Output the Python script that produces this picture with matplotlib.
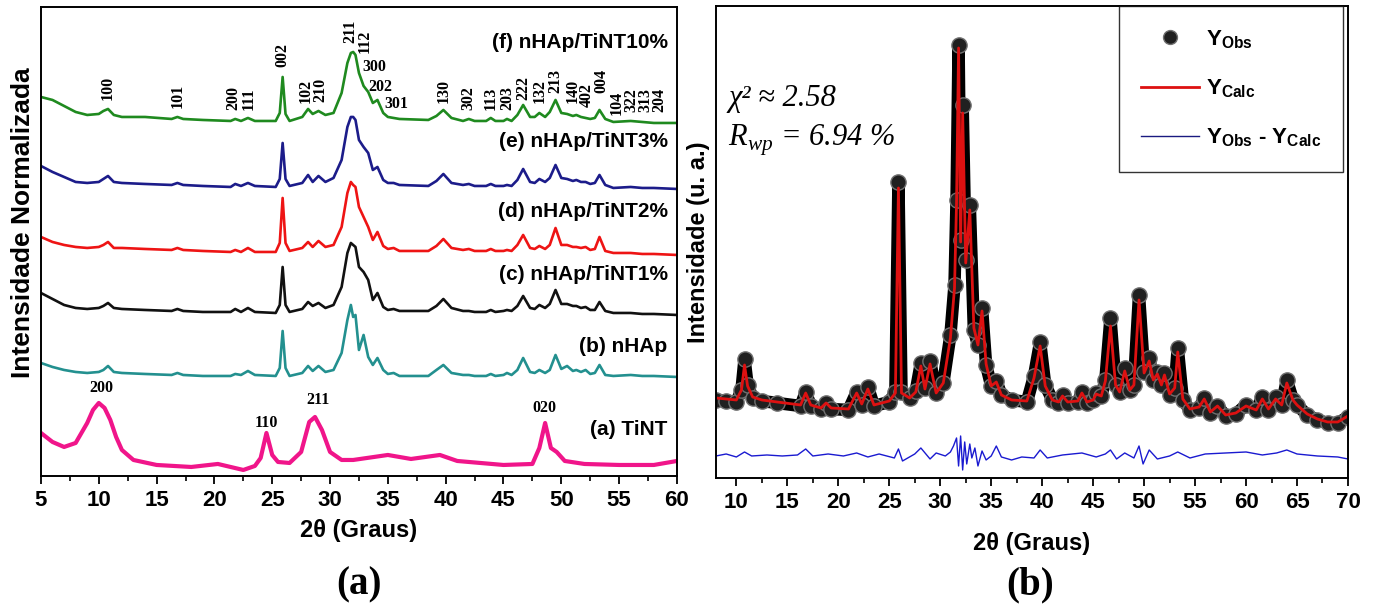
import matplotlib
matplotlib.use("Agg")
import matplotlib.pyplot as plt
from matplotlib.lines import Line2D
from matplotlib.ticker import MultipleLocator

plt.rcParams['font.family'] = ['Liberation Sans', 'DejaVu Sans']
plt.rcParams['font.weight'] = 'bold'
plt.rcParams['axes.labelweight'] = 'bold'

# ---------------- (a) stacked XRD patterns ----------------
theta_h = [5, 6, 7, 8, 9, 10, 10.4, 10.8, 11.3, 12, 14, 16.3, 16.8, 17.3, 19,
           21.4, 21.8, 22.3, 22.9, 23.5, 25.3, 25.65, 25.9, 26.15, 26.5, 27.6,
           28.1, 28.5, 29.0, 29.6, 30.3, 31.0, 31.5, 31.8, 32.0, 32.2, 32.5,
           32.9, 33.3, 33.7, 34.1, 34.6, 35.0, 35.5, 36, 38.5, 39.2, 39.8, 40.5,
           41.5, 42.0, 42.5, 43.5, 43.9, 44.3, 45.0, 45.3, 45.7, 46.2, 46.7,
           47.3, 47.7, 48.1, 48.6, 49.0, 49.5, 50.0, 50.5, 51.0, 51.3, 51.7,
           52.1, 52.5, 52.9, 53.3, 53.8, 54.5, 56, 57, 58, 60]

i_f = [26, 23, 17, 11, 8, 9, 12, 14, 8, 6, 6, 4, 6, 4, 3,
       2, 4, 2, 5, 2, 2, 10, 46, 9, 2, 6,
       14, 9, 12, 8, 10, 30, 60, 70, 71, 68, 50,
       37, 31, 20, 23, 10, 6, 5, 4, 3, 7, 13, 5,
       2, 4, 2, 2, 5, 2, 2, 4, 2, 8, 18,
       6, 6, 10, 6, 11, 23, 10, 9, 7, 8, 6,
       5, 4, 5, 13, 4, 1, 2, 1, 0, 0]
i_e = [23, 17, 12, 7, 6, 7, 10, 13, 7, 6, 5, 4, 6, 4, 3,
       2, 5, 3, 6, 3, 2, 10, 46, 10, 3, 6,
       14, 7, 13, 7, 11, 29, 62, 72, 72, 69, 49,
       42, 36, 19, 22, 9, 6, 6, 4, 3, 8, 15, 6,
       4, 5, 3, 3, 5, 3, 3, 4, 3, 9, 20,
       7, 6, 10, 7, 11, 24, 11, 10, 8, 9, 7,
       7, 5, 6, 14, 4, 1, 2, 1, 1, 0]
i_d = [18, 13, 10, 8, 7, 8, 10, 13, 7, 7, 6, 5, 7, 5, 4,
       3, 5, 3, 7, 3, 3, 12, 57, 12, 4, 7,
       13, 8, 14, 8, 10, 28, 62, 73, 70, 68, 48,
       38, 28, 15, 23, 9, 6, 7, 4, 4, 9, 16, 7,
       5, 6, 4, 4, 6, 4, 4, 5, 4, 10, 20,
       7, 6, 9, 6, 10, 27, 10, 10, 8, 8, 7,
       8, 5, 6, 18, 4, 2, 2, 1, 1, 0]
i_c = [22, 16, 10, 7, 6, 7, 9, 12, 7, 6, 5, 4, 6, 4, 3,
       3, 6, 3, 7, 3, 2, 10, 48, 10, 3, 6,
       13, 9, 12, 7, 10, 28, 62, 72, 70, 68, 48,
       43, 35, 15, 22, 8, 5, 6, 4, 4, 9, 16, 7,
       4, 4, 3, 3, 5, 3, 4, 5, 4, 9, 19,
       7, 6, 10, 7, 11, 25, 11, 11, 9, 9, 7,
       8, 5, 5, 13, 4, 2, 2, 1, 1, 0]
i_b = [14, 10, 7, 5, 4, 5, 7, 11, 5, 4, 3, 2, 4, 2, 1,
       1, 3, 2, 6, 2, 1, 9, 46, 9, 1, 4,
       11, 6, 11, 5, 7, 24, 57, 72, 60, 62, 27,
       42, 20, 12, 19, 7, 3, 4, 1, 1, 7, 12, 4,
       2, 2, 1, 1, 3, 1, 2, 4, 2, 7, 19,
       5, 4, 7, 4, 7, 22, 8, 11, 6, 7, 5,
       7, 3, 4, 12, 2, 1, 2, 1, 1, 0]

theta_t = [5, 6, 7, 8, 9, 9.5, 10, 10.5, 11, 11.5, 12, 13, 15, 18, 20.3,
           22.5, 23.5, 24.0, 24.5, 25.0, 25.5, 26.5, 27.5, 28.2, 28.7, 29.3,
           30.0, 31, 32, 35, 37, 39.5, 41, 45, 47.5, 48.1, 48.6, 49.1, 49.6,
           50.3, 52, 55, 58, 60]
i_a = [37, 28, 23, 27, 47, 60, 67, 62, 50, 33, 20, 10, 5, 3, 6,
       0, 4, 12, 37, 15, 8, 7, 18, 48, 53, 40,
       18, 10, 10, 15, 11, 15, 9, 5, 6, 22, 47, 22, 18,
       9, 6, 5, 5, 9]

names = ['(f) nHAp/TiNT10%', '(e) nHAp/TiNT3%', '(d) nHAp/TiNT2%',
         '(c) nHAp/TiNT1%', '(b) nHAp', '(a) TiNT']

# hkl labels of hydroxyapatite (rotated) : position, label
hkl_rot = [(10.8, '100', 376), (16.8, '101', 368), (21.6, '200', 366),
           (23.0, '111', 366), (25.9, '002', 409), (27.9, '102', 373),
           (29.2, '210', 374), (31.8, '211', 433), (33.0, '112', 423),
           (39.8, '130', 373), (42.0, '302', 366), (43.9, '113', 366),
           (45.3, '203', 366), (46.7, '222', 376), (48.1, '132', 373),
           (49.5, '213', 383), (51.0, '140', 373), (52.2, '402', 369),
           (53.5, '004', 383), (54.8, '104', 361), (56.1, '322', 364),
           (57.3, '313', 364), (58.5, '204', 364)]
hkl_flat = [(32.8, '300', 409), (33.3, '202', 389), (34.7, '301', 372)]
hkl_tint = [(10.2, '200', 88), (24.5, '110', 53), (29.0, '211', 76), (48.5, '020', 68)]

# ---------------- (b) Rietveld refinement ----------------
theta_b = [8.0, 9.0, 10.0, 10.5, 10.8, 11.1, 11.6, 12.5, 14.0, 16.3,
           16.8, 17.3, 18.3, 18.8, 19.3, 21.0, 21.8, 22.3, 22.9, 23.5,
           25.0, 25.6, 25.9, 26.2, 27.0, 27.6, 28.1, 28.5, 29.0, 29.6,
           30.3, 31.0, 31.4, 31.6, 31.8, 32.0, 32.2, 32.5, 32.9, 33.3,
           33.7, 34.1, 34.5, 35.0, 35.5, 36.0, 37.0, 38.5, 39.2, 39.8,
           40.3, 41.0, 41.6, 42.0, 42.5, 43.5, 43.9, 44.4, 45.0, 45.3,
           45.8, 46.2, 46.7, 47.2, 47.6, 48.1, 48.6, 49.0, 49.5, 50.0,
           50.5, 50.9, 51.3, 51.7, 52.0, 52.5, 53.0, 53.3, 53.8, 54.5,
           55.4, 55.9, 56.5, 57.2, 58.0, 59.0, 60.0, 61.0, 61.6, 62.2,
           62.9, 63.5, 64.0, 64.6, 65.0, 66.0, 67.0, 68.0, 69.0, 70.0]
y_obs = [78, 77, 76, 88, 119, 93, 80, 77, 75, 72,
         86, 72, 69, 75, 69, 68, 86, 73, 91, 72,
         76, 86, 296, 86, 80, 87, 115, 90, 117, 85,
         95, 143, 193, 278, 433, 238, 373, 218, 273, 148,
         133, 170, 113, 92, 97, 83, 78, 76, 102, 136,
         93, 78, 75, 83, 75, 76, 86, 75, 78, 85,
         82, 98, 160, 93, 86, 110, 88, 93, 183, 106,
         120, 98, 106, 93, 105, 83, 90, 130, 78, 68,
         70, 80, 65, 72, 62, 64, 73, 68, 81, 68,
         81, 73, 98, 78, 73, 63, 58, 55, 55, 61]
y_calc = [80, 79, 78, 88, 113, 92, 81, 78, 76, 73,
          85, 73, 70, 75, 70, 69, 85, 74, 89, 73,
          77, 85, 290, 85, 80, 86, 112, 89, 114, 85,
          95, 140, 190, 275, 430, 236, 365, 215, 268, 150,
          133, 167, 114, 92, 96, 83, 78, 77, 100, 132,
          92, 78, 76, 82, 76, 77, 85, 76, 78, 84,
          82, 97, 152, 93, 86, 107, 88, 93, 178, 105,
          117, 98, 104, 93, 103, 84, 90, 126, 79, 69,
          71, 79, 66, 72, 63, 65, 72, 68, 79, 69,
          79, 73, 95, 78, 73, 64, 59, 56, 56, 62]
theta_d = [8, 9, 10, 10.8, 11.5, 13, 14.5, 16, 16.8, 17.5,
           19, 20.5, 21.8, 22.9, 24, 25.5, 25.9, 26.3, 27.5, 28.1,
           29.0, 29.6, 30.5, 31.0, 31.3, 31.6, 31.8, 32.0, 32.2, 32.4,
           32.6, 32.9, 33.1, 33.4, 33.7, 34.1, 34.5, 35.0, 35.5, 36.0,
           37.0, 38.0, 39.2, 39.8, 40.5, 42.0, 43.9, 45.3, 46.2, 46.7,
           47.3, 48.1, 49.0, 49.5, 49.9, 50.5, 51.3, 52.5, 53.3, 54.5,
           56, 58, 60, 61.6, 63, 64, 65, 67, 69, 70]
y_diff = [-1, 1, -2, 3, -1, 0, -1, 0, 6, -1,
          1, -1, 2, -2, 1, -3, 6, -6, 1, 7,
          -4, 2, -1, 3, 9, 17, -11, 19, -15, 13,
          -9, 11, -3, 7, -11, 4, -5, -1, 9, -2,
          -5, -2, -3, 5, -3, 0, 2, -2, 1, 5,
          -4, 2, -3, 9, -9, 5, -4, -1, 3, -3,
          1, 2, 3, 0, 2, 5, 1, -1, -2, -4]

# ---------------- figure ----------------
fig = plt.figure(figsize=(13.79, 6.11), dpi=100)
ax1 = fig.add_axes([0.0297, 0.221, 0.4612, 0.7676])
ax2 = fig.add_axes([0.5192, 0.2177, 0.4583, 0.7725])

colors = ['#1f8a1f', '#1c1c8a', '#ee1414', '#111111', '#23908f', '#f0158a']
offsets = [353, 287, 221, 161, 99, 6]
label_y = [433, 334, 264, 201, 129, 46]

for vals, c, off in zip([i_f, i_e, i_d, i_c, i_b], colors, offsets):
    ax1.plot(theta_h, [v + off for v in vals], color=c, lw=1.9)
ax1.plot(theta_t, [v + offsets[5] for v in i_a], color=colors[5], lw=3)

for name, ly in zip(names, label_y):
    ax1.text(59.2, ly, name, ha='right', va='center', fontsize=15)

serif = dict(family='Liberation Serif', fontweight='bold', fontsize=11.5)
for x, t, y in hkl_rot:
    ax1.text(x, y, t, rotation=90, ha='center', va='bottom', **serif)
for x, t, y in hkl_flat:
    ax1.text(x, y, t, ha='left', va='center', **serif)
for x, t, y in hkl_tint:
    ax1.text(x, y, t, ha='center', va='center', **serif)

ax1.set_xlim(5, 60)
ax1.set_ylim(0, 469)
ax1.set_yticks([])
ax1.xaxis.set_major_locator(MultipleLocator(5))
ax1.xaxis.set_minor_locator(MultipleLocator(2.5))
ax1.set_xlabel('2θ (Graus)', fontsize=17, fontweight='bold', labelpad=6)
ax1.set_ylabel('Intensidade Normalizada', fontsize=19, fontweight='bold')
ax1.yaxis.set_label_coords(-0.01, 0.54)

ax2.plot(theta_b, y_obs, color='black', lw=9, solid_joinstyle='round',
         marker='o', ms=11, mfc='#202020', mec='#707070', mew=1)
ax2.plot(theta_b, y_calc, color='#dd1111', lw=2)
ax2.plot(theta_d, [v + 23 for v in y_diff], color='#1a1ad0', lw=1)

ax2.set_xlim(8, 70)
ax2.set_ylim(0, 472)
ax2.set_yticks([])
ax2.xaxis.set_major_locator(MultipleLocator(5))
ax2.xaxis.set_minor_locator(MultipleLocator(2.5))
ax2.set_xlabel('2θ (Graus)', fontsize=17, fontweight='bold', labelpad=14)
ax2.set_ylabel('Intensidade (u. a.)', fontsize=17, fontweight='bold', labelpad=4)

ax2.text(0.019, 0.805, 'χ² ≈ 2.58', transform=ax2.transAxes, va='center',
         family='Liberation Serif', style='italic', fontweight='normal', fontsize=22)
ax2.text(0.019, 0.716, r'R$_{\mathregular{wp}}$ = 6.94 %', transform=ax2.transAxes,
         va='center', family='Liberation Serif', style='italic',
         fontweight='normal', fontsize=22)

handles = [Line2D([], [], ls='none', marker='o', ms=10, mfc='#202020', mec='#707070'),
           Line2D([], [], color='#dd1111', lw=2),
           Line2D([], [], color='#1a1a80', lw=1)]
labels = [r'Y$_{\mathregular{Obs}}$', r'Y$_{\mathregular{Calc}}$',
          r'Y$_{\mathregular{Obs}}$ - Y$_{\mathregular{Calc}}$']
leg = ax2.legend(handles, labels, loc='upper right', bbox_to_anchor=(0.992, 1.0),
                 borderaxespad=0, fancybox=False, edgecolor='black',
                 prop=dict(weight='bold', size=16), labelspacing=1.2,
                 handlelength=2.6, borderpad=1.0, handletextpad=0.3)
leg.get_frame().set_linewidth(1.0)

for ax in (ax1, ax2):
    for s in ax.spines.values():
        s.set_linewidth(1.4)
    ax.tick_params(axis='x', which='major', direction='out', length=6, width=1.3,
                   labelsize=16, pad=4)
    ax.tick_params(axis='x', which='minor', direction='out', length=3.5, width=1.2)
    for lab in ax.get_xticklabels():
        lab.set_fontweight('bold')

fig.text(0.2603, 0.0425, '(a)', ha='center', va='center',
         family='Liberation Serif', fontweight='bold', fontsize=28)
fig.text(0.747, 0.0425, '(b)', ha='center', va='center',
         family='Liberation Serif', fontweight='bold', fontsize=28)

fig.savefig('out.png', dpi=100)
